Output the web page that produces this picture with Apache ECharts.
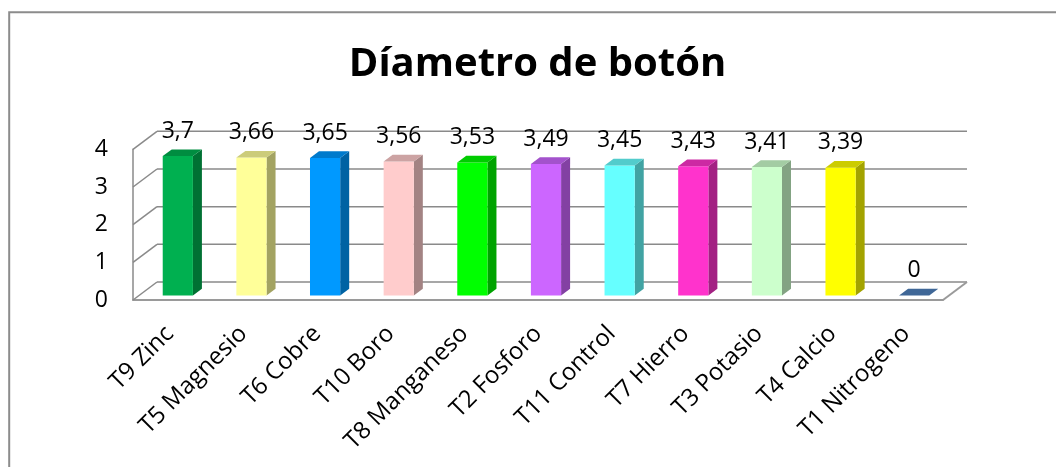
<!DOCTYPE html>
<html>
<head>
<meta charset="utf-8">
<script src="https://cdn.jsdelivr.net/npm/echarts@6/dist/echarts.min.js"></script>
<style>
html,body{margin:0;padding:0;background:#fff;}
#chart{width:1056px;height:467px;}
</style>
</head>
<body>
<div id="chart"></div>
<script>
const categories = ['T9 Zinc','T5 Magnesio','T6 Cobre','T10 Boro','T8 Manganeso','T2 Fosforo','T11 Control','T7 Hierro','T3 Potasio','T4 Calcio','T1 Nitrogeno'];
const values = [3.7, 3.66, 3.65, 3.56, 3.53, 3.49, 3.45, 3.43, 3.41, 3.39, 0];
const yTicks = [0, 1, 2, 3, 4];
const titleText = 'Díametro de botón';

const colors = ['#00B050','#FFFF99','#0099FF','#FFCCCC','#00FF00','#CC66FF','#66FFFF','#FF33CC','#CCFFCC','#FFFF00','#3F6797'];

const FONT = '"Open Sans", "Liberation Sans", sans-serif';
const DX = 24, DY = -18;           // wall depth
const BDX = 9, BDY = -6.7;         // bar depth
const BOFF_X = 8, BOFF_Y = -4.5;   // bar position inside depth

function shade(hex, f) {
  const n = parseInt(hex.slice(1), 16);
  const r = Math.round(((n >> 16) & 255) * f);
  const g = Math.round(((n >> 8) & 255) * f);
  const b = Math.round((n & 255) * f);
  return 'rgb(' + r + ',' + g + ',' + b + ')';
}

const nCat = categories.length;
const gridColor = '#8a8a8a';

const chart = echarts.init(document.getElementById('chart'), null, {renderer: 'canvas'});

const option = {
  animation: false,
  backgroundColor: '#fff',
  graphic: [
    {type: 'rect', shape: {x: 9.2, y: 12.2, width: 1200, height: 600}, style: {fill: 'none', stroke: '#8c8c8c', lineWidth: 2}, silent: true, z: 0},
    {type: 'text', x: 537.5, y: 65, style: {text: titleText, align: 'center', verticalAlign: 'middle', fontFamily: FONT, fontWeight: 'bold', fontSize: 40, fill: '#000'}, z: 10}
  ],
  grid: {left: 133, right: 113, top: 149.3, bottom: 167, containLabel: false},
  xAxis: {
    type: 'category',
    data: categories,
    axisLine: {show: true, lineStyle: {color: '#9a9a9a', width: 2}},
    axisTick: {show: false},
    axisLabel: {interval: 0, rotate: 45, margin: 30, fontFamily: FONT, fontSize: 24, color: '#000'},
    splitLine: {show: false}
  },
  yAxis: {
    type: 'value',
    min: 0, max: 4, interval: 1,
    axisLine: {show: true, lineStyle: {color: gridColor, width: 1.5}},
    axisTick: {show: false},
    axisLabel: {margin: 25, fontFamily: FONT, fontSize: 23, color: '#000', verticalAlign: 'middle', padding: [5, 0, 0, 0]},
    splitLine: {show: false}
  },
  series: [
    {
      type: 'custom',
      z: 1,
      silent: true,
      data: yTicks.map(t => [0, t]),
      encode: {x: 0, y: 1},
      renderItem: function (params, api) {
        const t = api.value(1);
        const bw = api.size([1, 0])[0];
        const p = api.coord([0, t]);
        const x0 = p[0] - bw / 2;
        const y = p[1];
        const xEnd = api.coord([nCat - 1, t])[0] + bw / 2;
        const ls = {stroke: gridColor, lineWidth: 1.5, fill: null};
        const children = [
          {type: 'line', shape: {x1: x0, y1: y, x2: x0 + DX, y2: y + DY}, style: ls},
          {type: 'line', shape: {x1: x0 + DX, y1: y + DY, x2: xEnd + DX, y2: y + DY}, style: ls}
        ];
        if (t === 0) {
          children.push({type: 'line', shape: {x1: xEnd, y1: y, x2: xEnd + DX, y2: y + DY}, style: {stroke: '#9a9a9a', lineWidth: 2, fill: null}});
        }
        return {type: 'group', children: children};
      }
    },
    {
      type: 'custom',
      z: 3,
      silent: true,
      data: values.map((v, i) => [i, v]),
      encode: {x: 0, y: 1},
      renderItem: function (params, api) {
        const i = api.value(0);
        const v = api.value(1);
        const bw = api.size([1, 0])[0];
        const w = bw * 0.41;
        const pTop = api.coord([i, v]);
        const pBot = api.coord([i, 0]);
        const cx = pTop[0] + BOFF_X;
        const xl = cx - w / 2, xr = cx + w / 2;
        const yt = pTop[1] + BOFF_Y, yb = pBot[1] + BOFF_Y;
        const c = colors[i % colors.length];
        const children = [];
        if (yb - yt > 0.5) {
          children.push({type: 'polygon', shape: {points: [[xr, yb], [xr + BDX, yb + BDY], [xr + BDX, yt + BDY], [xr, yt]]}, style: {fill: shade(c, 0.64)}});
          children.push({type: 'rect', shape: {x: xl, y: yt, width: w, height: yb - yt}, style: {fill: c}});
          children.push({type: 'polygon', shape: {points: [[xl, yt], [xr, yt], [xr + BDX, yt + BDY], [xl + BDX, yt + BDY]]}, style: {fill: shade(c, 0.8)}});
        } else {
          children.push({type: 'polygon', shape: {points: [[xl, yt], [xr, yt], [xr + BDX, yt + BDY], [xl + BDX, yt + BDY]]}, style: {fill: c}});
        }
        children.push({type: 'text', style: {text: String(v).replace('.', ','), x: cx, y: yt - 25, align: 'center', verticalAlign: 'middle', fontFamily: FONT, fontSize: 23, fill: '#000'}});
        return {type: 'group', children: children};
      }
    }
  ]
};
chart.setOption(option);
</script>
</body>
</html>
